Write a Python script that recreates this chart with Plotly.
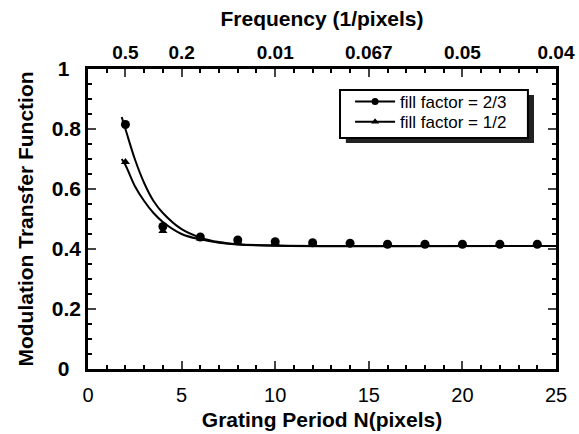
import plotly.graph_objects as go

# Measured data points
N_pts = [2, 4, 6, 8, 10, 12, 14, 16, 18, 20, 22, 24]
mtf_23 = [0.815, 0.475, 0.44, 0.43, 0.424, 0.421, 0.419, 0.416, 0.416, 0.416, 0.416, 0.416]
mtf_12 = [0.69, 0.46, 0.435, 0.425, 0.42, 0.418, 0.416, 0.414, 0.414, 0.414, 0.414, 0.414]

# Fitted curves
N_fit = [1.8, 2, 2.5, 3, 3.5, 4, 5, 6, 7, 8, 10, 25]
fit_23 = [0.84, 0.80, 0.70, 0.62, 0.56, 0.52, 0.466, 0.438, 0.423, 0.416, 0.412, 0.41]
fit_12 = [0.70, 0.68, 0.61, 0.56, 0.52, 0.49, 0.45, 0.432, 0.421, 0.415, 0.411, 0.41]

# Axis ticks
x_ticks = [0, 5, 10, 15, 20, 25]
y_ticks = [0, 0.2, 0.4, 0.6, 0.8, 1]
y_text = ["0\u00a0\u00a0", "0.2", "0.4", "0.6", "0.8", "1\u00a0\u00a0"]
top_vals = [2, 5, 10, 15, 20, 25]
top_text = ["0.5", "0.2", "0.01", "0.067", "0.05", "0.04"]

FONT = "Liberation Sans, Arial, Helvetica, sans-serif"

fig = go.Figure()
fig.add_trace(go.Scatter(x=N_fit, y=fit_23, mode="lines", line=dict(color="black", width=2, shape="spline"),
                         showlegend=False, hoverinfo="skip"))
fig.add_trace(go.Scatter(x=N_fit, y=fit_12, mode="lines", line=dict(color="black", width=2, shape="spline"),
                         showlegend=False, hoverinfo="skip"))
fig.add_trace(go.Scatter(x=N_pts, y=mtf_12, mode="markers", marker=dict(symbol="triangle-up", size=8, color="black"),
                         showlegend=False))
fig.add_trace(go.Scatter(x=N_pts, y=mtf_23, mode="markers", marker=dict(symbol="circle", size=9, color="black"),
                         showlegend=False))
# legend entries
fig.add_trace(go.Scatter(x=[None], y=[None], mode="lines+markers", name="fill factor = 2/3", legend="legend",
                         line=dict(color="black", width=2), marker=dict(symbol="circle", size=7, color="black")))
fig.add_trace(go.Scatter(x=[None], y=[None], mode="lines+markers", name="fill factor = 1/2", legend="legend2",
                         line=dict(color="black", width=2), marker=dict(symbol="triangle-up", size=7, color="black")))
# invisible trace to activate top axis
fig.add_trace(go.Scatter(x=[None], y=[None], xaxis="x2", showlegend=False))

leg_common = dict(xanchor="left", yanchor="middle", bgcolor="rgba(0,0,0,0)", borderwidth=0,
                  font=dict(size=17, family=FONT), itemwidth=40)

fig.update_layout(
    width=579, height=434,
    margin=dict(l=88, r=23, t=69, b=65),
    paper_bgcolor="white", plot_bgcolor="white",
    font=dict(family=FONT, color="black"),
    xaxis=dict(range=[0, 25], tickvals=x_ticks, ticks="inside", ticklen=8, tickwidth=2,
               showline=True, linewidth=2.5, linecolor="black", showgrid=False, zeroline=False, automargin=False,
               minor=dict(ticks="inside", dtick=1, ticklen=4, tickwidth=2, tickcolor="black"),
               tickfont=dict(size=20, family=FONT), ticklabelstandoff=6,
               title=dict(text="<b>Grating Period N(pixels)</b>", font=dict(size=21), standoff=8)),
    xaxis2=dict(range=[0, 25], overlaying="x", side="top", tickmode="array", tickvals=top_vals, ticktext=top_text,
                ticks="inside", ticklen=8, tickwidth=2, showline=True, linewidth=2.5, linecolor="black",
                showgrid=False, zeroline=False, automargin=False,
                minor=dict(ticks="inside", tickmode="linear", tick0=0, dtick=1, ticklen=4, tickwidth=2, tickcolor="black"),
                tickfont=dict(size=19, family=FONT, weight="bold"),
                title=dict(text="<b>Frequency (1/pixels)</b>", font=dict(size=21), standoff=10)),
    yaxis=dict(range=[0, 1], tickvals=y_ticks, ticktext=y_text,
               ticks="inside", ticklen=8, tickwidth=2, showline=True, linewidth=2.5, linecolor="black",
               mirror="ticks", showgrid=False, zeroline=False, automargin=False,
               minor=dict(ticks="inside", dtick=0.05, ticklen=4, tickwidth=2, tickcolor="black"),
               tickfont=dict(size=21, family=FONT, weight="bold"),
               title=dict(text="<b>Modulation Transfer Function</b>", font=dict(size=21), standoff=13)),
    legend=dict(x=0.56, y=0.89, **leg_common),
    legend2=dict(x=0.56, y=0.823, **leg_common),
    shapes=[
        dict(type="rect", xref="paper", yref="paper", x0=0.551, x1=0.953, y0=0.753, y1=0.913,
             fillcolor="#222", line=dict(width=0), layer="above"),
        dict(type="rect", xref="paper", yref="paper", x0=0.5385, x1=0.940, y0=0.77, y1=0.93,
             fillcolor="white", line=dict(width=2, color="black"), layer="above"),
    ],
)

fig.write_html("out.html", config={"displayModeBar": False},
               post_script="document.body.style.margin='0';document.body.style.overflow='hidden';")
